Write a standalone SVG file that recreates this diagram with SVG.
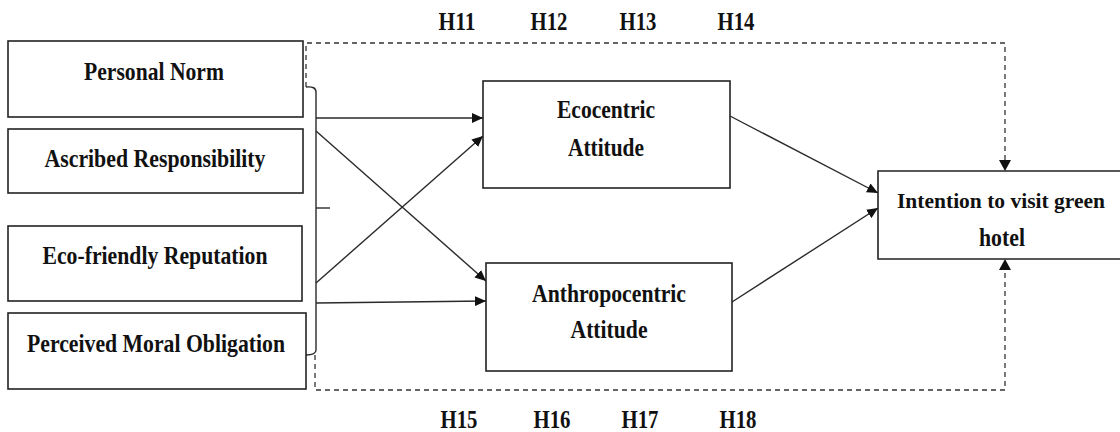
<svg xmlns="http://www.w3.org/2000/svg" width="1120" height="432" viewBox="0 0 1120 432">
<style>
.box{fill:#fff;stroke:#222;stroke-width:1.6}
.t{font-family:"Liberation Serif","Times New Roman",serif;font-weight:bold;font-size:26px;fill:#111;text-anchor:middle}
.c{fill:none;stroke:#2a2a2a;stroke-width:1.4}
.d{fill:none;stroke:#333;stroke-width:1.3;stroke-dasharray:5 4}
</style>
<defs>
<marker id="ah" markerUnits="userSpaceOnUse" markerWidth="12" markerHeight="10" refX="11" refY="5" orient="auto">
<path d="M0,0 L11,5 L0,10 Z" fill="#111"/>
</marker>
</defs>
<rect width="1120" height="432" fill="#fff"/>
<g id="connectors">
<path class="d" d="M306,87 V43 H1005 V160"/>
<path class="d" d="M315,355 V390 H1005 V270"/>
<path d="M999,160 L1011,160 L1005,171 Z" fill="#111"/>
<path d="M999,270 L1011,270 L1005,259 Z" fill="#111"/>
<path class="c" d="M306,87 Q316,86 316,92 V350 Q316,355 306,355"/>
<path class="c" d="M316,208 H330"/>
<line class="c" x1="316" y1="118" x2="483" y2="118" marker-end="url(#ah)"/>
<line class="c" x1="316" y1="131" x2="486" y2="281" marker-end="url(#ah)"/>
<line class="c" x1="316" y1="283" x2="483" y2="136" marker-end="url(#ah)"/>
<line class="c" x1="316" y1="303" x2="486" y2="301" marker-end="url(#ah)"/>
<line class="c" x1="730" y1="116" x2="878" y2="193" marker-end="url(#ah)"/>
<line class="c" x1="732" y1="302" x2="878" y2="208" marker-end="url(#ah)"/>
</g>
<g id="labels-top">
<text class="t" x="457" y="30" textLength="37" lengthAdjust="spacingAndGlyphs">H11</text>
<text class="t" x="549" y="30" textLength="37" lengthAdjust="spacingAndGlyphs">H12</text>
<text class="t" x="638" y="30" textLength="37" lengthAdjust="spacingAndGlyphs">H13</text>
<text class="t" x="736" y="30" textLength="37" lengthAdjust="spacingAndGlyphs">H14</text>
</g>
<g id="labels-bottom">
<text class="t" x="459" y="428" textLength="37" lengthAdjust="spacingAndGlyphs">H15</text>
<text class="t" x="552" y="428" textLength="37" lengthAdjust="spacingAndGlyphs">H16</text>
<text class="t" x="640" y="428" textLength="37" lengthAdjust="spacingAndGlyphs">H17</text>
<text class="t" x="738" y="428" textLength="37" lengthAdjust="spacingAndGlyphs">H18</text>
</g>
<g id="personal-norm">
<rect class="box" x="8" y="41" width="295" height="76"/>
<text class="t" x="154" y="80" textLength="140" lengthAdjust="spacingAndGlyphs">Personal Norm</text>
</g>
<g id="ascribed-responsibility">
<rect class="box" x="8" y="129" width="295" height="64"/>
<text class="t" x="155" y="167" textLength="221" lengthAdjust="spacingAndGlyphs">Ascribed Responsibility</text>
</g>
<g id="eco-friendly-reputation">
<rect class="box" x="8" y="226" width="294" height="75"/>
<text class="t" x="155" y="264" textLength="225" lengthAdjust="spacingAndGlyphs">Eco-friendly Reputation</text>
</g>
<g id="perceived-moral-obligation">
<rect class="box" x="8" y="313" width="298" height="76"/>
<text class="t" x="156" y="352" textLength="258" lengthAdjust="spacingAndGlyphs">Perceived Moral Obligation</text>
</g>
<g id="ecocentric-attitude">
<rect class="box" x="483" y="81" width="247" height="107"/>
<text class="t" x="606" y="118" textLength="98" lengthAdjust="spacingAndGlyphs">Ecocentric</text>
<text class="t" x="606" y="156" textLength="76" lengthAdjust="spacingAndGlyphs">Attitude</text>
</g>
<g id="anthropocentric-attitude">
<rect class="box" x="486" y="263" width="246" height="108"/>
<text class="t" x="609" y="302" textLength="154" lengthAdjust="spacingAndGlyphs">Anthropocentric</text>
<text class="t" x="609" y="338" textLength="77" lengthAdjust="spacingAndGlyphs">Attitude</text>
</g>
<g id="intention">
<path class="box" d="M1120,171 H878 V259 H1120"/>
<text class="t" x="1001" y="208" style="font-size:22px" textLength="208" lengthAdjust="spacingAndGlyphs">Intention to visit green</text>
<text class="t" x="1002" y="246" textLength="46" lengthAdjust="spacingAndGlyphs">hotel</text>
</g>
</svg>
